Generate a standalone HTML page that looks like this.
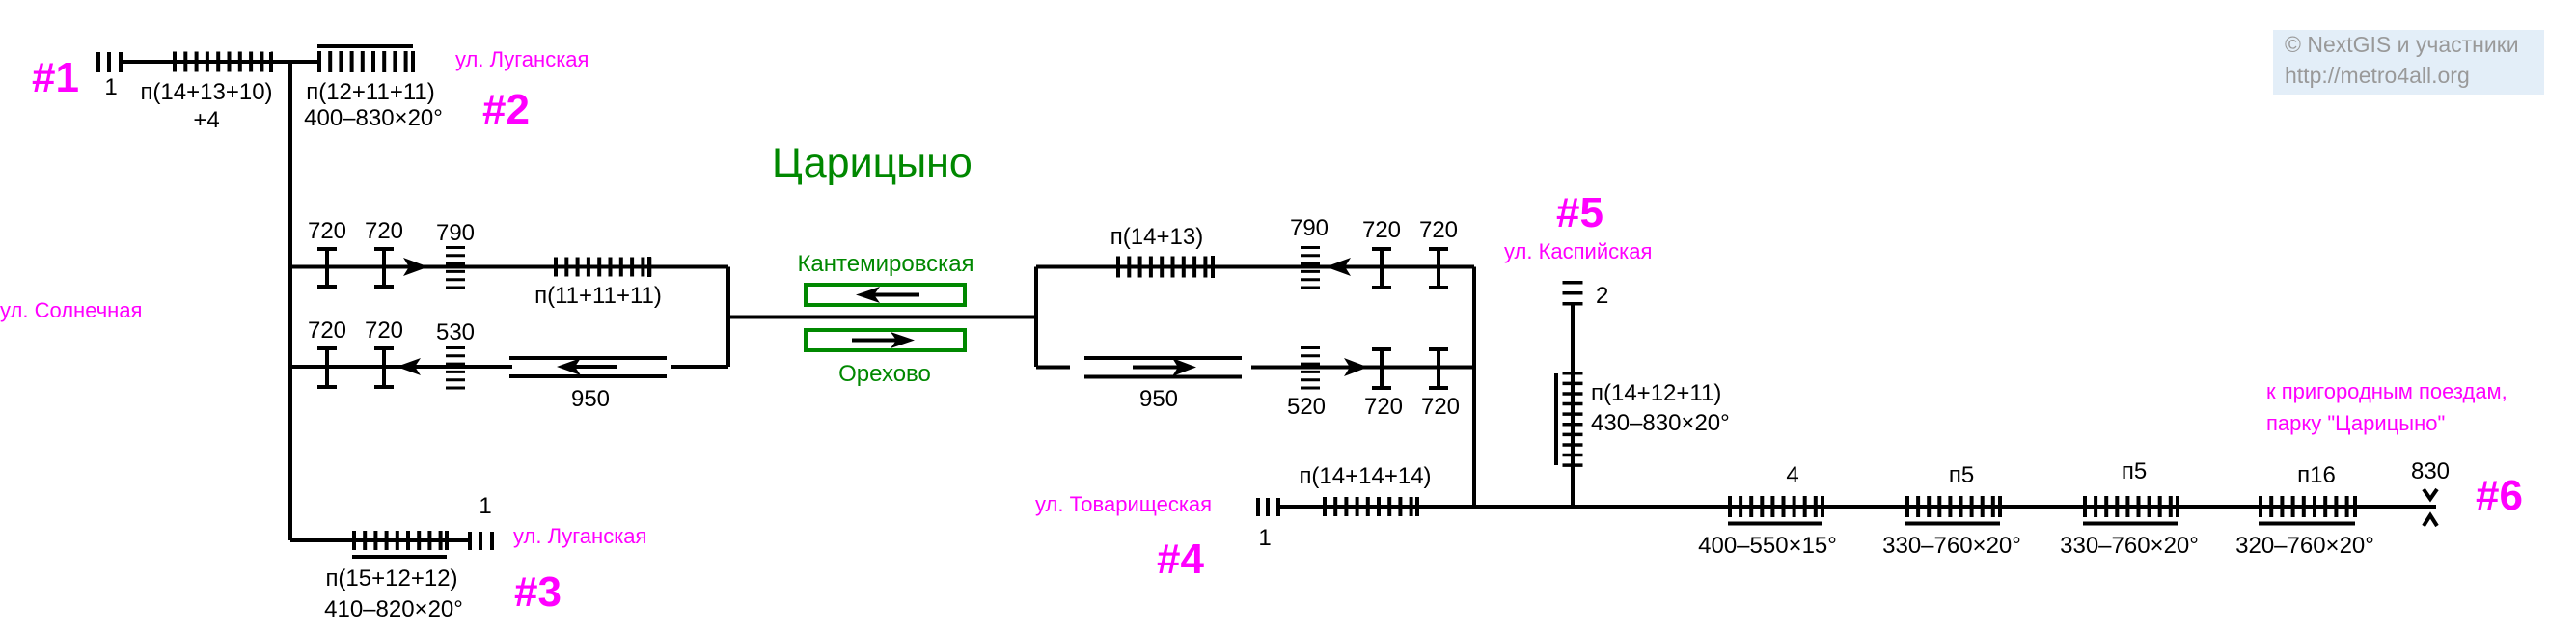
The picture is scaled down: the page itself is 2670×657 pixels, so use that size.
<!DOCTYPE html>
<html><head><meta charset="utf-8"><style>
html,body{margin:0;padding:0;background:#fff;}
svg{display:block;}
text{font-family:"Liberation Sans","DejaVu Sans",sans-serif;}
.t{font-size:24px;fill:#000;}
.m{font-size:22px;fill:#f0f;}
.h{font-size:44px;fill:#f0f;font-weight:bold;}
.g{fill:#080;}
</style></head><body>
<svg width="2670" height="657" viewBox="0 0 2670 657" xmlns="http://www.w3.org/2000/svg">
<g stroke="#000" stroke-width="4" fill="none">
<!-- #1 top row -->
<line x1="102" y1="54" x2="102" y2="75"/><line x1="113" y1="54" x2="113" y2="75"/><line x1="125" y1="54" x2="125" y2="75"/>
<line x1="125" y1="64" x2="301" y2="64"/>
<line x1="179" y1="64" x2="283" y2="64" stroke-width="21" stroke-dasharray="4 7.3"/>
<line x1="281" y1="54" x2="281" y2="75"/>
<!-- #2 -->
<line x1="301" y1="64" x2="329" y2="64"/>
<line x1="329" y1="64" x2="430" y2="64" stroke-width="22" stroke-dasharray="4 7.2"/>
<line x1="428" y1="53" x2="428" y2="75"/>
<line x1="329" y1="48" x2="428" y2="48"/>
<!-- trunk -->
<line x1="301" y1="64" x2="301" y2="560"/>
<!-- Row A -->
<line x1="301" y1="276.5" x2="755" y2="276.5"/>
<line x1="574" y1="276.5" x2="676" y2="276.5" stroke-width="20" stroke-dasharray="4 7.3"/>
<line x1="673" y1="266" x2="673" y2="287"/>
<line x1="755" y1="276.5" x2="755" y2="380"/>
<!-- Row B -->
<line x1="301" y1="380" x2="531" y2="380"/>
<line x1="528" y1="371" x2="691" y2="371"/><line x1="528" y1="390" x2="691" y2="390"/>
<line x1="590" y1="380" x2="640" y2="380"/>
<line x1="696" y1="380" x2="755" y2="380"/>
<!-- I beams left -->
<path d="M339 258V297M329 258H349M329 297H349M398 258V297M388 258H408M388 297H408"/>
<path d="M339 361V401M329 361H349M329 401H349M398 361V401M388 361H408M388 401H408"/>
<!-- ladders left -->
<line x1="472" y1="255" x2="472" y2="300" stroke-width="20" stroke-dasharray="3 5.3"/>
<line x1="472" y1="359" x2="472" y2="404" stroke-width="20" stroke-dasharray="3 5.3"/>
<!-- middle -->
<line x1="755" y1="328.5" x2="1074" y2="328.5"/>
<line x1="1074" y1="276.5" x2="1074" y2="380"/>
<!-- right upper row -->
<line x1="1074" y1="276.5" x2="1528" y2="276.5"/>
<line x1="1157" y1="276.5" x2="1259" y2="276.5" stroke-width="22" stroke-dasharray="4 7.3"/>
<line x1="1257" y1="265" x2="1257" y2="288"/>
<!-- right lower row -->
<line x1="1074" y1="380.5" x2="1109" y2="380.5"/>
<line x1="1124" y1="371" x2="1287" y2="371"/><line x1="1124" y1="390.5" x2="1287" y2="390.5"/>
<line x1="1174" y1="380.5" x2="1225" y2="380.5"/>
<line x1="1297" y1="380.5" x2="1528" y2="380.5"/>
<line x1="1358" y1="255" x2="1358" y2="300" stroke-width="20" stroke-dasharray="3 5.3"/>
<line x1="1358" y1="359" x2="1358" y2="404" stroke-width="20" stroke-dasharray="3 5.3"/>
<path d="M1432 258V298M1422 258H1442M1422 298H1442M1491 258V298M1481 258H1501M1481 298H1501"/>
<path d="M1432 362V402M1422 362H1442M1422 402H1442M1491 362V402M1481 362H1501M1481 402H1501"/>
<line x1="1528" y1="276.5" x2="1528" y2="525"/>
<!-- #3 row -->
<line x1="301" y1="560" x2="487" y2="560"/>
<line x1="365" y1="560" x2="465" y2="560" stroke-width="20" stroke-dasharray="4 7.2"/>
<line x1="463" y1="550" x2="463" y2="570"/>
<line x1="365" y1="577" x2="463" y2="577"/>
<line x1="487" y1="551" x2="487" y2="570"/><line x1="498" y1="551" x2="498" y2="570"/><line x1="510" y1="551" x2="510" y2="570"/>
<!-- #4 row -->
<line x1="1304" y1="516" x2="1304" y2="535"/><line x1="1314" y1="516" x2="1314" y2="535"/><line x1="1325" y1="516" x2="1325" y2="535"/>
<line x1="1325" y1="525" x2="2525" y2="525"/>
<line x1="1371" y1="525" x2="1471" y2="525" stroke-width="20" stroke-dasharray="4 7.2"/>
<line x1="1469" y1="515" x2="1469" y2="535"/>
<!-- #5 -->
<line x1="1630" y1="291" x2="1630" y2="320" stroke-width="21" stroke-dasharray="3.5 7.5"/>
<line x1="1630" y1="316" x2="1630" y2="525"/>
<line x1="1630" y1="385" x2="1630" y2="487" stroke-width="21" stroke-dasharray="3.5 7.1"/>
<line x1="1613" y1="387" x2="1613" y2="482"/>
<!-- bottom groups -->
<line x1="1791" y1="525" x2="1891" y2="525" stroke-width="22" stroke-dasharray="4 7.1"/>
<line x1="1889" y1="514" x2="1889" y2="536"/>
<line x1="1791" y1="542.5" x2="1889" y2="542.5"/>
<line x1="1975" y1="525" x2="2075" y2="525" stroke-width="22" stroke-dasharray="4 7.1"/>
<line x1="2073" y1="514" x2="2073" y2="536"/>
<line x1="1975" y1="542.5" x2="2073" y2="542.5"/>
<line x1="2159" y1="525" x2="2259" y2="525" stroke-width="22" stroke-dasharray="4 7.1"/>
<line x1="2257" y1="514" x2="2257" y2="536"/>
<line x1="2159" y1="542.5" x2="2257" y2="542.5"/>
<line x1="2341" y1="525" x2="2443" y2="525" stroke-width="22" stroke-dasharray="4 7.2"/>
<line x1="2441" y1="514" x2="2441" y2="536"/>
<line x1="2341" y1="542.5" x2="2441" y2="542.5"/>
<path d="M2512 507L2519 517L2526 507M2512 545L2519 534L2526 545"/>
<!-- green boxes -->
<rect x="835" y="295" width="165" height="21" stroke="#080"/>
<rect x="835" y="342" width="165" height="21" stroke="#080"/>
<line x1="895" y1="305.5" x2="953" y2="305.5"/>
<line x1="883" y1="352.5" x2="940" y2="352.5"/>
</g>
<g fill="#000">
<path d="M444 276.5L418 267L424 276.5L418 286Z"/>
<path d="M411 380L436 371L430 380L436 389Z"/>
<path d="M577 380L602 371L596 380L602 389Z"/>
<path d="M1374 276.5L1400 267L1394 276.5L1400 286Z"/>
<path d="M1418 380.5L1393 371L1399 380.5L1393 390Z"/>
<path d="M1240 380.5L1215 371L1221 380.5L1215 390Z"/>
<path d="M887 305.5L912 297L906 305.5L912 314Z"/>
<path d="M948 352.5L923 344L929 352.5L923 361Z"/>
</g>
<rect x="2356" y="31" width="281" height="67" fill="#e3eef8"/>
<text x="2368" y="54" font-size="23" fill="#999">© NextGIS и участники</text>
<text x="2368" y="86" font-size="23" fill="#999">http://metro4all.org</text>
<text class="h" x="33" y="95">#1</text>
<text class="h" x="500" y="128">#2</text>
<text class="h" x="533" y="628">#3</text>
<text class="h" x="1199" y="594">#4</text>
<text class="h" x="1613" y="235">#5</text>
<text class="h" x="2566" y="528">#6</text>
<text class="m" x="472" y="69">ул. Луганская</text>
<text class="m" x="0" y="329">ул. Солнечная</text>
<text class="m" x="532" y="563">ул. Луганская</text>
<text class="m" x="1073" y="530">ул. Товарищеская</text>
<text class="m" x="1559" y="268">ул. Каспийская</text>
<text class="m" x="2349" y="413">к пригородным поездам,</text>
<text class="m" x="2349" y="446">парку "Царицыно"</text>
<text x="800" y="183" font-size="43" class="g">Царицыно</text>
<text x="918" y="281" font-size="24" class="g" text-anchor="middle">Кантемировская</text>
<text x="917" y="395" font-size="24" class="g" text-anchor="middle">Орехово</text>
<g class="t" text-anchor="middle">
<text x="115" y="98">1</text>
<text x="214" y="103">п(14+13+10)</text>
<text x="214" y="132">+4</text>
<text x="384" y="103">п(12+11+11)</text>
<text x="387" y="130">400–830×20°</text>
<text x="339" y="247">720</text><text x="398" y="247">720</text><text x="472" y="249">790</text>
<text x="339" y="350">720</text><text x="398" y="350">720</text><text x="472" y="352">530</text>
<text x="620" y="314">п(11+11+11)</text>
<text x="612" y="421">950</text>
<text x="503" y="532">1</text>
<text x="406" y="607">п(15+12+12)</text>
<text x="408" y="639">410–820×20°</text>
<text x="1199" y="253">п(14+13)</text>
<text x="1357" y="244">790</text><text x="1432" y="246">720</text><text x="1491" y="246">720</text>
<text x="1201" y="421">950</text>
<text x="1354" y="429">520</text><text x="1434" y="429">720</text><text x="1493" y="429">720</text>
<text x="1311" y="565">1</text>
<text x="1415" y="501">п(14+14+14)</text>
<text x="1858" y="500">4</text>
<text x="1832" y="573">400–550×15°</text>
<text x="2033" y="500">п5</text>
<text x="2023" y="573">330–760×20°</text>
<text x="2212" y="496">п5</text>
<text x="2207" y="573">330–760×20°</text>
<text x="2401" y="500">п16</text>
<text x="2389" y="573">320–760×20°</text>
<text x="2519" y="496">830</text>
</g>
<g class="t">
<text x="1654" y="314">2</text>
<text x="1649" y="415">п(14+12+11)</text>
<text x="1649" y="446">430–830×20°</text>
</g>
</svg>
</body></html>
